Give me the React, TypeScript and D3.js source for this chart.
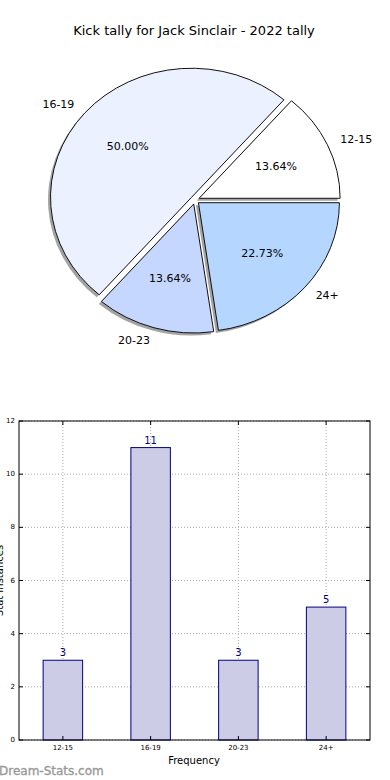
import * as d3 from "d3";

// chart data
const categories = ["12-15", "16-19", "20-23", "24+"];
const counts = [3, 11, 3, 5];
const pieColors = ["#ffffff", "#ebf1ff", "#c5d6ff", "#b4d6ff"];
const yTicks = [0, 2, 4, 6, 8, 10, 12];

const FONT = "DejaVu Sans, Verdana, sans-serif";

export default function App() {
  const W = 390,
    H = 780;

  // pie, drawn counter-clockwise from 3 o'clock like matplotlib
  const cx = 195,
    cy = 200,
    rx = 141,
    ry = 129,
    explode = 0.032;
  const total = d3.sum(counts);
  const pie = d3
    .pie<number>()
    .sort(null)
    .startAngle(Math.PI / 2)
    .endAngle(Math.PI / 2 - 2 * Math.PI);
  const arcs = pie(counts);
  const arc = d3.arc<d3.PieArcDatum<number>>().innerRadius(0).outerRadius(1);

  const slices = arcs.map((a, i) => {
    const mid = (a.startAngle + a.endAngle) / 2;
    const ux = Math.sin(mid),
      uy = -Math.cos(mid);
    const ox = cx + rx * explode * ux,
      oy = cy + ry * explode * uy;
    return {
      a,
      i,
      ox,
      oy,
      lx: ox + rx * 1.1 * ux,
      ly: oy + ry * 1.1 * uy,
      px: ox + rx * 0.6 * ux,
      py: oy + ry * 0.6 * uy,
      anchor: ux > 0 ? "start" : "end",
    };
  });

  // bar chart
  const m = { left: 19, right: 370, top: 421, bottom: 740 };
  const x = d3
    .scaleBand()
    .domain(categories)
    .range([m.left, m.right])
    .paddingInner(0.55)
    .paddingOuter(0.275);
  const y = d3.scaleLinear().domain([0, 12]).range([m.bottom, m.top]);
  const centers = categories.map((c) => (x(c) as number) + x.bandwidth() / 2);

  return (
    <svg
      width={W}
      height={H}
      style={{ position: "absolute", left: 0, top: 0, background: "#fff" }}
      fontFamily={FONT}
    >
      <text x={194} y={35} textAnchor="middle" fontSize={13}>
        Kick tally for Jack Sinclair - 2022 tally
      </text>

      {/* shadows */}
      {slices.map((s) => (
        <path
          key={"sh" + s.i}
          d={arc(s.a) as string}
          transform={`translate(${s.ox - 2.5},${s.oy + 2.5}) scale(${rx},${ry})`}
          fill="#666"
          opacity={0.6}
        />
      ))}
      {slices.map((s) => (
        <path
          key={"sl" + s.i}
          d={arc(s.a) as string}
          transform={`translate(${s.ox},${s.oy}) scale(${rx},${ry})`}
          fill={pieColors[s.i]}
          stroke="#111"
          strokeWidth={1}
          vectorEffect="non-scaling-stroke"
        />
      ))}
      {slices.map((s) => (
        <g key={"lb" + s.i} fontSize={11}>
          <text x={s.lx} y={s.ly} textAnchor={s.anchor} dominantBaseline="central">
            {categories[s.i]}
          </text>
          <text x={s.px} y={s.py} textAnchor="middle" dominantBaseline="central">
            {((counts[s.i] / total) * 100).toFixed(2)}%
          </text>
        </g>
      ))}

      {/* grid */}
      {yTicks.map((t) => (
        <line
          key={"gy" + t}
          x1={m.left}
          x2={m.right}
          y1={y(t)}
          y2={y(t)}
          stroke="#aaa"
          strokeDasharray="1 2"
        />
      ))}
      {centers.map((c, i) => (
        <line
          key={"gx" + i}
          x1={c}
          x2={c}
          y1={m.top}
          y2={m.bottom}
          stroke="#aaa"
          strokeDasharray="1 2"
        />
      ))}

      {/* bars */}
      {categories.map((c, i) => (
        <g key={"b" + c}>
          <rect
            x={x(c)}
            y={y(counts[i])}
            width={x.bandwidth()}
            height={m.bottom - y(counts[i])}
            fill="#ccccE6"
            stroke="#000080"
            strokeWidth={1}
          />
          <text
            x={centers[i]}
            y={y(counts[i]) - 4}
            textAnchor="middle"
            fontSize={10}
            fill="#000080"
          >
            {counts[i]}
          </text>
        </g>
      ))}

      {/* frame and ticks */}
      <rect
        x={m.left}
        y={m.top}
        width={m.right - m.left}
        height={m.bottom - m.top}
        fill="none"
        stroke="#000"
        strokeWidth={1}
      />
      {yTicks.map((t) => (
        <g key={"ty" + t}>
          <line x1={m.left} x2={m.left + 4} y1={y(t)} y2={y(t)} stroke="#000" />
          <line x1={m.right} x2={m.right - 4} y1={y(t)} y2={y(t)} stroke="#000" />
          <text
            x={m.left - 4}
            y={y(t)}
            textAnchor="end"
            dominantBaseline="central"
            fontSize={7}
          >
            {t}
          </text>
        </g>
      ))}
      {categories.map((c, i) => (
        <g key={"tx" + c}>
          <line x1={centers[i]} x2={centers[i]} y1={m.bottom} y2={m.bottom - 4} stroke="#000" />
          <line x1={centers[i]} x2={centers[i]} y1={m.top} y2={m.top + 4} stroke="#000" />
          <text x={centers[i]} y={m.bottom + 10} textAnchor="middle" fontSize={7}>
            {c}
          </text>
        </g>
      ))}
      <text x={194} y={764} textAnchor="middle" fontSize={10}>
        Frequency
      </text>
      <text
        transform={`translate(3,${(m.top + m.bottom) / 2}) rotate(-90)`}
        textAnchor="middle"
        fontSize={10}
      >
        Stat Instances
      </text>

      <text
        x={-1}
        y={775}
        fontSize={12}
        fill="#999"
        stroke="#999"
        strokeWidth={0.35}
      >
        Dream-Stats.com
      </text>
    </svg>
  );
}
